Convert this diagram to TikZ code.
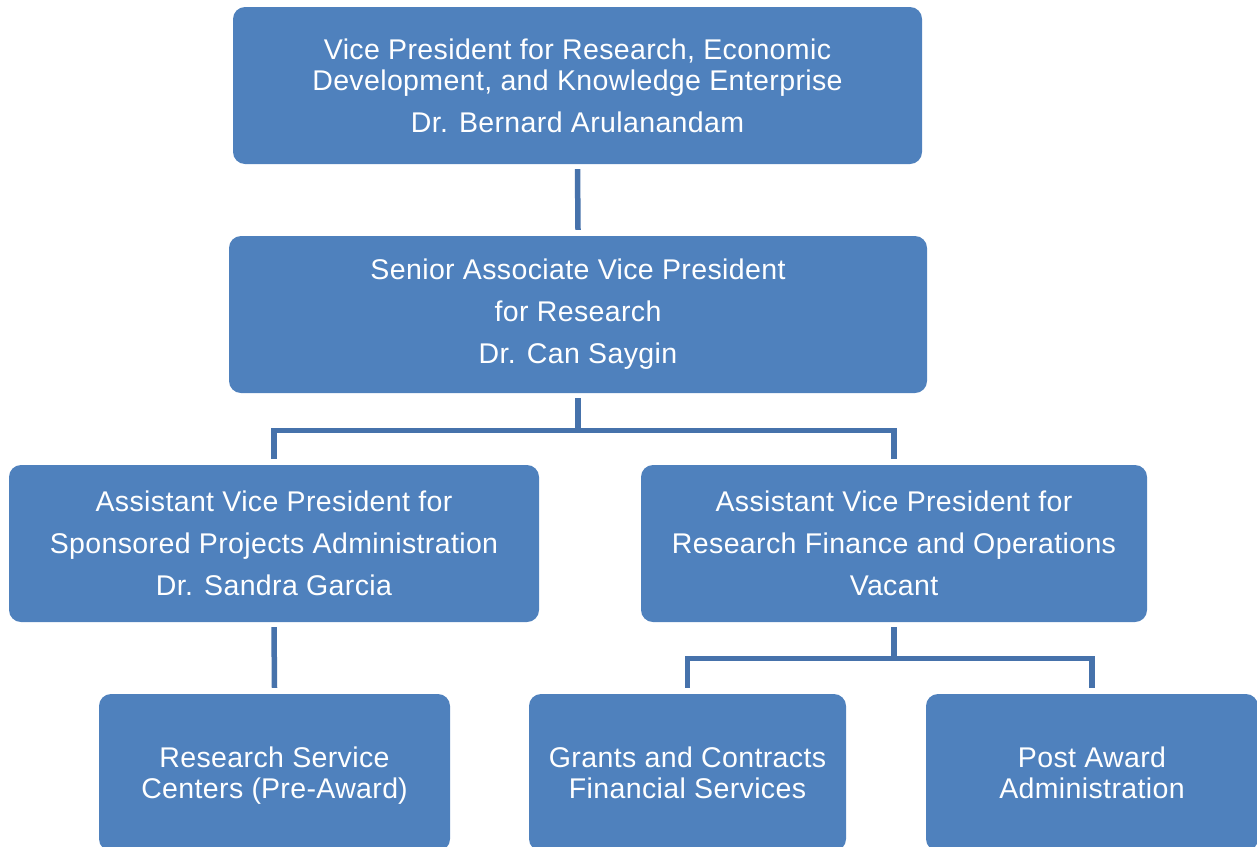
\documentclass[tikz,border=0pt]{standalone}
\usepackage{fontspec}
\setmainfont[LetterSpace=1.3]{Liberation Sans}
\usetikzlibrary{calc}

\definecolor{boxblue}{HTML}{4F81BD}
\definecolor{lineblue}{HTML}{4672AB}

\tikzset{
  unit/.style={fill=boxblue, rounded corners=12pt, inner sep=0pt,
    minimum height=157pt, text=white, align=center,
    font=\fontsize{28.5}{31}\selectfont},
  link/.style={draw=lineblue, line width=5.5pt, line join=miter}
}

\begin{document}
\begin{tikzpicture}[x=1pt,y=-1pt]
\useasboundingbox (0,0) rectangle (1257,846);
\begin{scope}
% top of the chart
\node[unit, minimum width=689pt] (vpr) at (577.5,85.5)
  {Vice President for Research, Economic\\Development, and Knowledge Enterprise\\[11pt]Dr. Bernard Arulanandam};
\node[unit, minimum width=698pt] (savp) at (578,314.5)
  {Senior Associate Vice President\\[11pt]for Research\\[11pt]Dr. Can Saygin};
% assistant vice presidents
\node[unit, minimum width=530pt] (avpspa) at (274,543.5)
  {Assistant Vice President for\\[11pt]Sponsored Projects Administration\\[11pt]Dr. Sandra Garcia};
\node[unit, minimum width=506pt] (avprfo) at (894,543.5)
  {Assistant Vice President for\\[11pt]Research Finance and Operations\\[11pt]Vacant};
% offices
\node[unit, minimum width=351pt] (rsc) at (274.5,772.5)
  {Research Service\\Centers \smash{(}Pre-Award\smash{)}};
\node[unit, minimum width=317pt] (gcfs) at (687.5,772.5)
  {Grants and Contracts\\Financial Services};
\node[unit, minimum width=332pt] (paa) at (1092,772.5)
  {Post Award\\Administration};

\coordinate (busa) at (578,430.5);
\coordinate (busb) at (894,658.5);

\draw[link] ([yshift=-5pt]vpr.south) -- ([yshift=6pt]savp.north);
\draw[link] ([yshift=-5pt]savp.south) -- (busa);
\draw[link] ([yshift=6pt]avpspa.north) |- (busa) -| ([yshift=6pt]avprfo.north);
\draw[link] ([yshift=-5pt]avpspa.south) -- ([yshift=6pt]rsc.north);
\draw[link] ([yshift=-5pt]avprfo.south) -- (busb);
\draw[link] ([yshift=6pt]gcfs.north) |- (busb) -| ([yshift=6pt]paa.north);
\end{scope}
\end{tikzpicture}
\end{document}
